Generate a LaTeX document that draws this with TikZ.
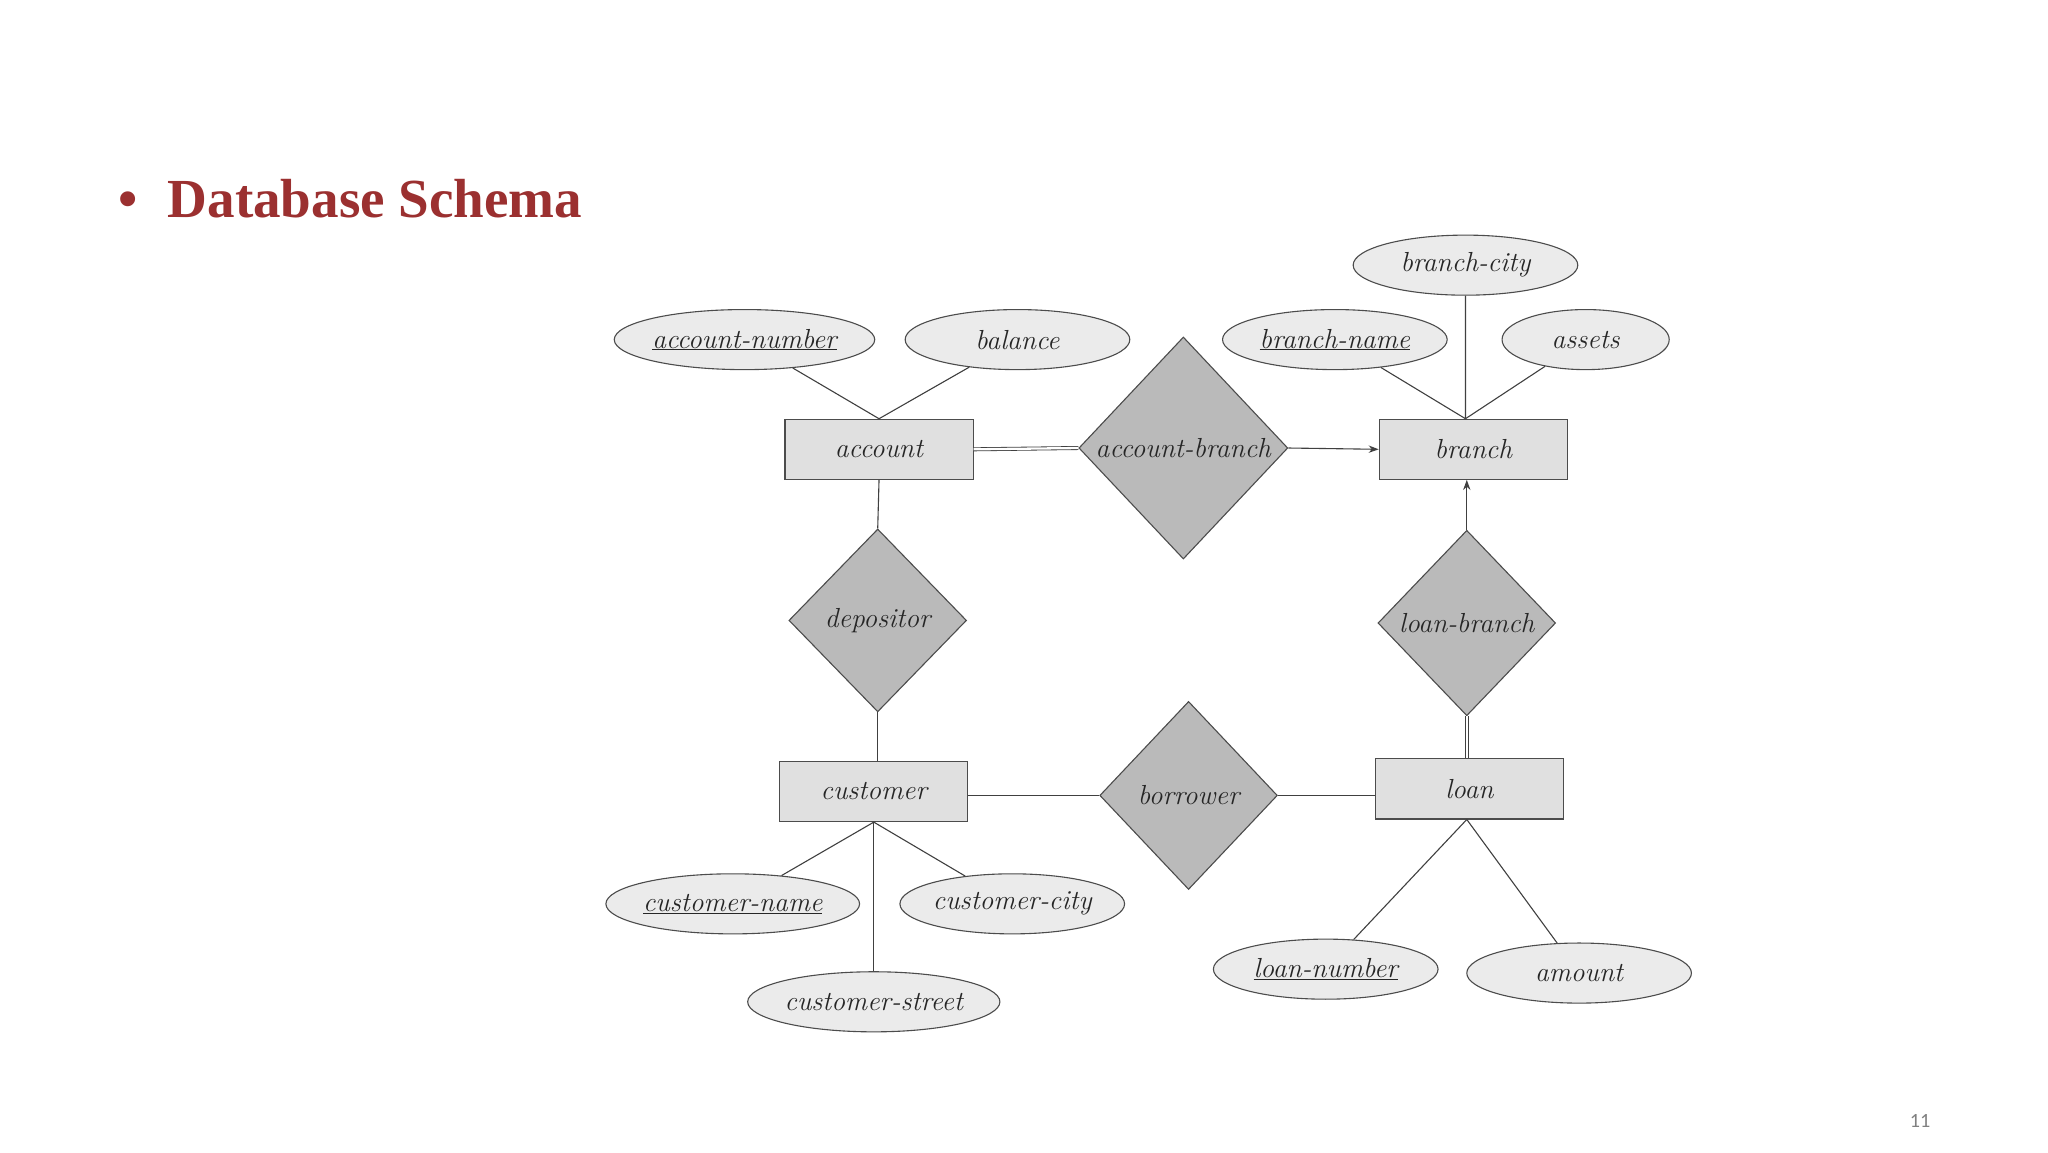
\documentclass[tikz,border=0pt]{standalone}
\usepackage{fontspec}
\newfontfamily\titlefont{Liberation Serif}
\newfontfamily\numfont{Carlito}
\usetikzlibrary{shapes.geometric,arrows.meta}
\definecolor{titlered}{HTML}{9B3030}
\begin{document}
\begin{tikzpicture}[x=0.05cm,y=-0.05cm,
  every node/.style={font=\fontsize{30}{32}\selectfont\itshape, text=black!85},
  ent/.style={draw=black!70, fill=black!12, line width=1.2pt, minimum width=7.2cm, minimum height=2.3cm, inner sep=0pt},
  rel/.style={draw=black!70, fill=black!27, line width=1.2pt, diamond, inner sep=0pt},
  att/.style={draw=black!70, fill=black!8, line width=1.2pt, ellipse, minimum height=2.3cm, inner sep=0pt},
  ln/.style={draw=black!75, line width=1.2pt},
  dbl/.style={draw=black!75, line width=0.9pt, double, double distance=2.5pt},
  arr/.style={ln, -{Stealth[length=11pt,width=8pt]}}]
\useasboundingbox (0,0) rectangle (1568,882);
\node[font=\titlefont\bfseries\fontsize{60}{64}\selectfont, text=titlered, anchor=west] (title) at (88,152) {\textbullet\hspace{0.55em}Database Schema};
\node[font=\numfont\fontsize{22}{24}\selectfont, text=black!50] (pg) at (1470,858) {11};
% entities
\node[ent] (acc) at (673,344) {account};
\node[ent] (br) at (1128,344) {branch};
\node[ent] (cu) at (669,606) {customer};
\node[ent] (lo) at (1125,604) {loan};
% relationships
\node[rel, minimum width=8cm, minimum height=8.5cm] (ab) at (906,343) {account-branch};
\node[rel, minimum width=6.8cm, minimum height=7cm] (dep) at (672,475) {depositor};
\node[rel, minimum width=6.8cm, minimum height=7.1cm] (lb) at (1123,477) {loan-branch};
\node[rel, minimum width=6.8cm, minimum height=7.2cm] (bo) at (910,609) {borrower};
% attributes
\node[att, minimum width=9.5cm] (an) at (570,260) {\underline{account-number}};
\node[att, minimum width=8.6cm] (bal) at (779,260) {balance};
\node[att, minimum width=8.6cm] (bc) at (1122,203) {branch-city};
\node[att, minimum width=8.6cm] (bn) at (1022,260) {\underline{branch-name}};
\node[att, minimum width=6.4cm] (as) at (1214,260) {assets};
\node[att, minimum width=8.6cm] (cn) at (561,692) {\underline{customer-name}};
\node[att, minimum width=8.6cm] (cc) at (775,692) {customer-city};
\node[att, minimum width=8.6cm] (cs) at (669,767) {customer-street};
\node[att, minimum width=8.6cm] (ln) at (1015,742) {\underline{loan-number}};
\node[att, minimum width=8.6cm] (am) at (1209,745) {amount};
% connectors
\draw[ln] (an) -- (acc.north);
\draw[ln] (bal) -- (acc.north);
\draw[ln] (bn) -- ([xshift=-0.3cm]br.north);
\draw[ln] (bc) -- ([xshift=-0.3cm]br.north);
\draw[ln] (as) -- ([xshift=-0.3cm]br.north);
\draw[dbl] (acc.east) -- (ab.west);
\draw[arr] (ab.east) -- (br.west);
\draw[ln] (acc.south) -- (dep.north);
\draw[ln] (dep.south) -- (cu.north -| dep.south);
\draw[ln] (cu.east |- bo.west) -- (bo.west);
\draw[ln] (bo.east) -- (lo.west |- bo.east);
\draw[arr] (lb.north) -- (br.south -| lb.north);
\draw[dbl] (lb.south) -- (lo.north -| lb.south);
\draw[ln] (cu.south) -- (cn);
\draw[ln] (cu.south) -- (cc);
\draw[ln] (cu.south) -- (cs);
\draw[ln] ([xshift=-0.1cm]lo.south) -- (ln);
\draw[ln] ([xshift=-0.1cm]lo.south) -- (am);
\end{tikzpicture}
\end{document}
